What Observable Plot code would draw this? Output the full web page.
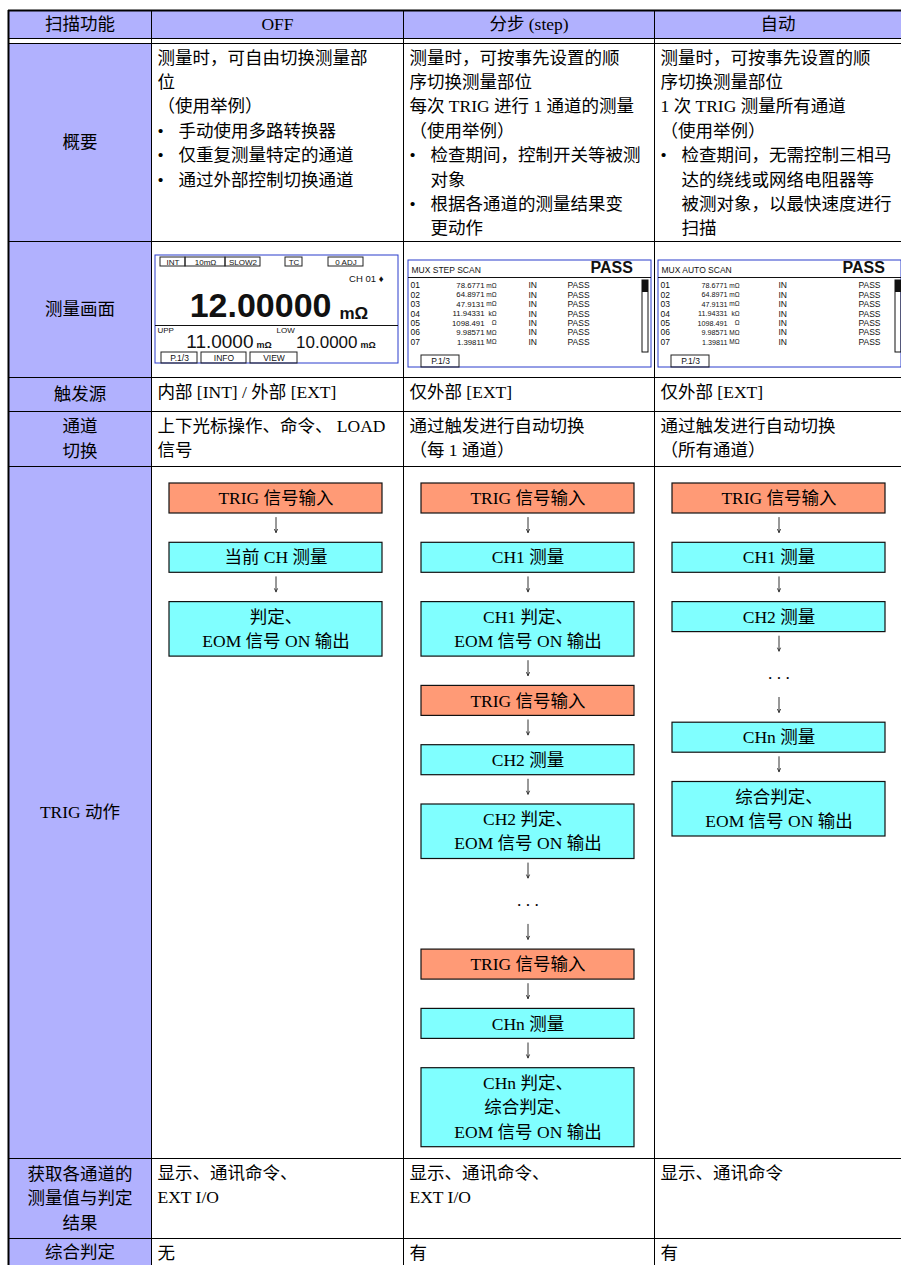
<!DOCTYPE html>
<html><head><meta charset="utf-8">
<script src="https://cdn.jsdelivr.net/npm/d3@7"></script>
<script src="https://cdn.jsdelivr.net/npm/@observablehq/plot@0.6"></script>
<style>
html,body{margin:0;padding:0;background:#fff;}
g[aria-label="doc-text"] text{letter-spacing:0.9px;}
g[aria-label="lcd-title"] text{letter-spacing:0.6px;}
</style></head><body><div id="chart"></div>
<script>
// ---------------- DATA ----------------
const headers = ["扫描功能", "OFF", "分步 (step)", "自动"];
const rowLabels = [["概要"], ["测量画面"], ["触发源"], ["通道", "切换"], ["TRIG 动作"], ["获取各通道的", "测量值与判定", "结果"], ["综合判定"]];
const overviewOff = ["测量时，可自由切换测量部", "位", "（使用举例）", "• 手动使用多路转换器", "• 仅重复测量特定的通道", "• 通过外部控制切换通道"];
const overviewStep = ["测量时，可按事先设置的顺", "序切换测量部位", "每次 TRIG 进行 1 通道的测量", "（使用举例）", "• 检查期间，控制开关等被测", "  对象", "• 根据各通道的测量结果变", "  更动作"];
const overviewAuto = ["测量时，可按事先设置的顺", "序切换测量部位", "1 次 TRIG 测量所有通道", "（使用举例）", "• 检查期间，无需控制三相马", "  达的绕线或网络电阻器等", "  被测对象，以最快速度进行", "  扫描"];
const triggerSource = [["内部 [INT] / 外部 [EXT]"], ["仅外部 [EXT]"], ["仅外部 [EXT]"]];
const channelSwitch = [["上下光标操作、命令、 LOAD", "信号"], ["通过触发进行自动切换", "（每 1 通道）"], ["通过触发进行自动切换", "（所有通道）"]];
const acquisition = [["显示、通讯命令、", "EXT I/O"], ["显示、通讯命令、", "EXT I/O"], ["显示、通讯命令"]];
const overallJudgement = [["无"], ["有"], ["有"]];

const flowOff = [
  {kind: "trig", lines: ["TRIG 信号输入"]},
  {kind: "meas", lines: ["当前 CH 测量"]},
  {kind: "meas", lines: ["判定、", "EOM 信号 ON 输出"]}
];
const flowStep = [
  {kind: "trig", lines: ["TRIG 信号输入"]},
  {kind: "meas", lines: ["CH1 测量"]},
  {kind: "meas", lines: ["CH1 判定、", "EOM 信号 ON 输出"]},
  {kind: "trig", lines: ["TRIG 信号输入"]},
  {kind: "meas", lines: ["CH2 测量"]},
  {kind: "meas", lines: ["CH2 判定、", "EOM 信号 ON 输出"]},
  {kind: "dots", lines: [". . ."]},
  {kind: "trig", lines: ["TRIG 信号输入"]},
  {kind: "meas", lines: ["CHn 测量"]},
  {kind: "meas", lines: ["CHn 判定、", "综合判定、", "EOM 信号 ON 输出"]}
];
const flowAuto = [
  {kind: "trig", lines: ["TRIG 信号输入"]},
  {kind: "meas", lines: ["CH1 测量"]},
  {kind: "meas", lines: ["CH2 测量"]},
  {kind: "dots", lines: [". . ."]},
  {kind: "meas", lines: ["CHn 测量"]},
  {kind: "meas", lines: ["综合判定、", "EOM 信号 ON 输出"]}
];

// LCD screen contents
const offTags = ["INT", "10mΩ", "SLOW2", "TC", "0 ADJ"];
const offChannel = "CH 01 ♦";
const offReading = "12.00000";
const offUnit = "mΩ";
const offLimitLabels = ["UPP", "LOW"];
const offLimits = ["11.0000", "10.0000"];
const offTabs = ["P.1/3", "INFO", "VIEW"];
const muxTitles = ["MUX STEP SCAN", "MUX AUTO SCAN"];
const muxOverall = "PASS";
const muxChannels = ["01", "02", "03", "04", "05", "06", "07"];
const muxValues = ["78.6771", "64.8971", "47.9131", "11.94331", "1098.491", "9.98571", "1.39811"];
const muxUnits = ["mΩ", "mΩ", "mΩ", "kΩ", "Ω", "MΩ", "MΩ"];
const muxStatus = ["IN", "IN", "IN", "IN", "IN", "IN", "IN"];
const muxJudge = ["PASS", "PASS", "PASS", "PASS", "PASS", "PASS", "PASS"];
const muxTab = "P.1/3";

// ---------------- LAYOUT / STYLE ----------------
const W = 901, H = 1265;
const colX = [8, 151, 403, 654, 901];
const headTop = 10, headBottom = 38;
const rowEdges = [43, 241, 377, 411, 466, 1158, 1238, 1265];
const LINE = 24.4, FS = 17.5, GAP = 29.3;
const LAV = "#b1b1fe", SALMON = "#ff9a76", CYAN = "#80ffff", LCD_BORDER = "#2a3ccc";
const FONT_DOC = "'Liberation Serif','Noto Sans CJK SC',serif";
const FONT_LCD = "'Liberation Sans',Arial,sans-serif";

const fills = [
  {x1: colX[0], x2: colX[4], y1: headTop, y2: headBottom, fill: LAV},
  {x1: colX[0], x2: colX[1], y1: rowEdges[0], y2: rowEdges[rowEdges.length - 1], fill: LAV}
];
const hThin = [headBottom, ...rowEdges.slice(0, -1)].map(y => ({y, x1: colX[0], x2: colX[4]}));
const hThick = [{y: headTop, x1: colX[0], x2: colX[4]}];
const vThin = colX.slice(1, 4).map(x => ({x, y1: headTop, y2: H}));
const vThick = [{x: colX[0], y1: headTop, y2: H}];

const centerText = [], leftText = [];
headers.forEach((t, i) => centerText.push({x: (colX[i] + colX[i + 1]) / 2, y: (headTop + headBottom) / 2, t}));
rowLabels.forEach((lines, r) => {
  const cy = (rowEdges[r] + rowEdges[r + 1]) / 2;
  lines.forEach((t, k) => centerText.push({x: (colX[0] + colX[1]) / 2, y: cy + (k - (lines.length - 1) / 2) * LINE, t}));
});
function cell(lines, col, row) {
  const x0 = colX[col], top = rowEdges[row];
  lines.forEach((s, k) => {
    const y = top + 14.5 + k * LINE;
    if (s.startsWith("• ")) { centerText.push({x: x0 + 9, y, t: "•"}); leftText.push({x: x0 + 27, y, t: s.slice(2)}); }
    else if (s.startsWith("  ")) leftText.push({x: x0 + 27, y, t: s.slice(2)});
    else leftText.push({x: x0 + 6, y, t: s});
  });
}
[overviewOff, overviewStep, overviewAuto].forEach((l, i) => cell(l, i + 1, 0));
triggerSource.forEach((l, i) => cell(l, i + 1, 2));
channelSwitch.forEach((l, i) => cell(l, i + 1, 3));
acquisition.forEach((l, i) => cell(l, i + 1, 5));
overallJudgement.forEach((l, i) => cell(l, i + 1, 6));

// flow charts
const boxes = [], boxText = [], arrows = [];
function flow(steps, col) {
  const xl = colX[col] + 18, xr = colX[col] + 231, xc = (xl + xr) / 2;
  let prevBottom = null;
  steps.forEach((s, i) => {
    let y = rowEdges[4] + 17;
    if (i > 0) { arrows.push({x: xc, y1: prevBottom + 4, y2: prevBottom + 19}); y = prevBottom + GAP; }
    if (s.kind === "dots") {
      const h = 32; boxText.push({x: xc, y: y + h / 2 - 4, t: s.lines[0]}); prevBottom = y + h;
    } else {
      const h = 30 + 24.5 * (s.lines.length - 1);
      boxes.push({x1: xl, x2: xr, y1: y, y2: y + h, fill: s.kind === "trig" ? SALMON : CYAN});
      s.lines.forEach((t, k) => boxText.push({x: xc, y: y + h / 2 + (k - (s.lines.length - 1) / 2) * 24.2, t}));
      prevBottom = y + h;
    }
  });
}
flow(flowOff, 1); flow(flowStep, 2); flow(flowAuto, 3);

// LCD screens
const lcdRects = [], lcdFilled = [], lcdLines = [];
const lcdText = {start: [], middle: [], end: []};
function lt(anchor, x, y, t, size, weight = "normal", family = FONT_LCD) { lcdText[anchor].push({x, y, t, size, weight, family}); }
// OFF screen
{
  const sx = 155, sy = 255, w = 243, h = 108;
  lcdRects.push({x1: sx, x2: sx + w, y1: sy, y2: sy + h, stroke: LCD_BORDER});
  const tagX = [[5, 30], [30, 70], [70, 105], [130, 147], [173, 208]];
  offTags.forEach((t, i) => {
    lcdRects.push({x1: sx + tagX[i][0], x2: sx + tagX[i][1], y1: sy + 2, y2: sy + 11, stroke: "#222"});
    lt("middle", sx + (tagX[i][0] + tagX[i][1]) / 2, sy + 6.5, t, 8);
  });
  lt("end", sx + 228, sy + 23, offChannel, 9.5);
  lt("end", sx + 176, sy + 51, offReading, 34, "bold");
  lt("start", sx + 184, sy + 58, offUnit, 17, "bold");
  lcdLines.push({y: sy + 70, x1: sx, x2: sx + w});
  lt("start", sx + 2, sy + 75, offLimitLabels[0], 8);
  lt("start", sx + 121, sy + 75, offLimitLabels[1], 8);
  lt("end", sx + 98, sy + 86.5, offLimits[0], 19);
  lt("start", sx + 101, sy + 90, offUnit, 9, "bold");
  lt("end", sx + 202, sy + 87, offLimits[1], 17);
  lt("start", sx + 205, sy + 90, offUnit, 9, "bold");
  const tabX = [[6, 42], [46, 91], [95, 142]];
  offTabs.forEach((t, i) => {
    lcdRects.push({x1: sx + tabX[i][0], x2: sx + tabX[i][1], y1: sy + 97, y2: sy + h, stroke: "#222"});
    lt("middle", sx + (tabX[i][0] + tabX[i][1]) / 2, sy + 102.5, t, 8.5);
  });
}
// MUX screens
function muxScreen(sx, title, cfg) {
  const sy = 260, w = 243, h = 107;
  lcdRects.push({x1: sx, x2: sx + w, y1: sy, y2: sy + h, stroke: LCD_BORDER});
  lcdText.start.push({x: sx + 3, y: sy + 10, t: title, size: 8.5, weight: "normal", family: FONT_LCD, title: true});
  lt(cfg.passAnchor, sx + cfg.passX, sy + 7.5, muxOverall, 16, "bold");
  lcdLines.push({y: sy + 17, x1: sx, x2: sx + w});
  muxChannels.forEach((c, i) => {
    const y = sy + 25 + i * 9.45;
    lt("start", sx + 2, y, c, 8.5);
    lt("end", sx + cfg.valX, y, muxValues[i], cfg.valSize);
    lt("end", sx + cfg.unitX, y, muxUnits[i], 6.5);
    lt("start", sx + cfg.inX, y, muxStatus[i], 8.5);
    lt(cfg.judgeAnchor, sx + cfg.judgeX, y, muxJudge[i], 8.5);
  });
  lcdRects.push({x1: sx + cfg.barX, x2: sx + cfg.barX + 6, y1: sy + 20, y2: sy + 92, stroke: "#111"});
  lcdFilled.push({x1: sx + cfg.barX, x2: sx + cfg.barX + 6, y1: sy + 20, y2: sy + 32});
  lcdRects.push({x1: sx + 13, x2: sx + 51, y1: sy + 95, y2: sy + h, stroke: "#222"});
  lt("middle", sx + 32, sy + 101, muxTab, 8.5);
}
muxScreen(408, muxTitles[0], {passX: 182, passAnchor: "start", valX: 76, valSize: 7.8, unitX: 88, inX: 120, judgeX: 159, judgeAnchor: "start", barX: 234});
muxScreen(658, muxTitles[1], {passX: 184, passAnchor: "start", valX: 69, valSize: 7.2, unitX: 81, inX: 120, judgeX: 222, judgeAnchor: "end", barX: 237});

// ---------------- PLOT ----------------
const marks = [
  Plot.rect(fills, {x1: "x1", x2: "x2", y1: "y1", y2: "y2", fill: "fill"}),
  Plot.rect(boxes, {x1: "x1", x2: "x2", y1: "y1", y2: "y2", fill: "fill", stroke: "#111", strokeWidth: 1.2}),
  Plot.arrow(arrows, {x1: "x", x2: "x", y1: "y1", y2: "y2", stroke: "#333", strokeWidth: 1, headLength: 5, headAngle: 50}),
  Plot.rect(lcdRects, {x1: "x1", x2: "x2", y1: "y1", y2: "y2", fill: "none", stroke: "stroke", strokeWidth: 1}),
  Plot.rect(lcdFilled, {x1: "x1", x2: "x2", y1: "y1", y2: "y2", fill: "#111"}),
  Plot.ruleY(lcdLines, {y: "y", x1: "x1", x2: "x2", stroke: "#111", strokeWidth: 1}),
  Plot.ruleY(hThin, {y: "y", x1: "x1", x2: "x2", stroke: "#000", strokeWidth: 1}),
  Plot.ruleY(hThick, {y: "y", x1: "x1", x2: "x2", stroke: "#000", strokeWidth: 2}),
  Plot.ruleX(vThin, {x: "x", y1: "y1", y2: "y2", stroke: "#000", strokeWidth: 1}),
  Plot.ruleX(vThick, {x: "x", y1: "y1", y2: "y2", stroke: "#000", strokeWidth: 2}),
  Plot.text(centerText, {x: "x", y: "y", text: "t", textAnchor: "middle", lineAnchor: "middle", fontSize: FS, fontFamily: FONT_DOC, fill: "#000", ariaLabel: "doc-text"}),
  Plot.text(leftText, {x: "x", y: "y", text: "t", textAnchor: "start", lineAnchor: "middle", fontSize: FS, fontFamily: FONT_DOC, fill: "#000", ariaLabel: "doc-text"}),
  Plot.text(boxText, {x: "x", y: "y", text: "t", textAnchor: "middle", lineAnchor: "middle", fontSize: FS, fontFamily: FONT_DOC, fill: "#000", ariaLabel: "doc-text"})
];
for (const anchor of ["start", "middle", "end"]) {
  const groups = d3.groups(lcdText[anchor], d => d.size + "|" + d.weight + "|" + d.family + "|" + (d.title ? 1 : 0));
  for (const [, data] of groups) {
    const d0 = data[0];
    marks.push(Plot.text(data, {x: "x", y: "y", text: "t", textAnchor: anchor, lineAnchor: "middle", fontSize: d0.size, fontWeight: d0.weight, fontFamily: d0.family, fill: "#111", ariaLabel: d0.title ? "lcd-title" : "lcd-text"}));
  }
}

const chart = Plot.plot({
  width: W, height: H, margin: 0,
  x: {domain: [0, W], range: [0, W], axis: null},
  y: {domain: [0, H], range: [0, H], axis: null},
  color: {type: "identity"},
  style: {background: "#fff", overflow: "hidden"},
  marks
});
document.getElementById("chart").appendChild(chart);
</script></body></html>
